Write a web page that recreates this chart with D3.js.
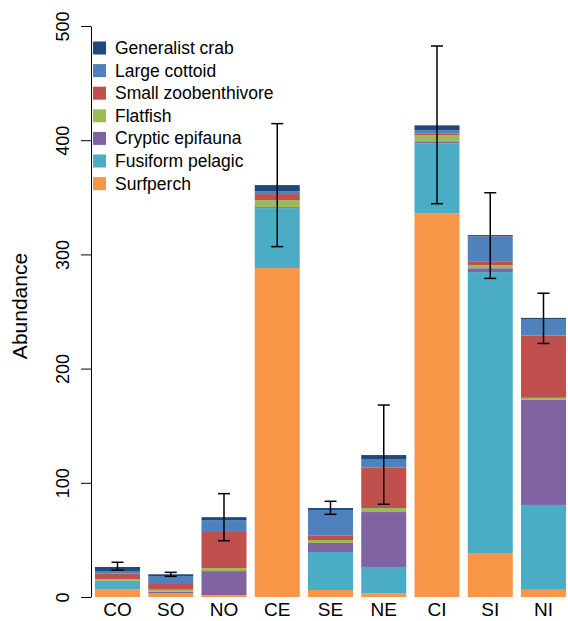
<!DOCTYPE html>
<html><head><meta charset="utf-8">
<script src="https://cdn.jsdelivr.net/npm/d3@7"></script>
<style>body{margin:0;background:#fff}svg{display:block}text{font-family:"Liberation Sans",Arial,sans-serif}</style>
</head><body><svg id="c" width="568" height="621"></svg>
<script>
const sites = ["CO","SO","NO","CE","SE","NE","CI","SI","NI"];
const groups = ["Surfperch","Fusiform pelagic","Cryptic epifauna","Flatfish","Small zoobenthivore","Large cottoid","Generalist crab"];
const colors = ["#F79646","#4BACC6","#8064A2","#9BBB59","#C0504D","#4F81BD","#1F497D"];
const surfperch          = [6.7, 2.9, 1.2, 288, 6.1, 3.2, 336, 38.5, 7];
const fusiformPelagic    = [7.3, 0.6, 0.5, 52.5, 33.3, 23.1, 61.2, 246, 73.6];
const crypticEpifauna    = [0.2, 1.1, 21, 0.9, 7.9, 48.1, 1.8, 3.4, 92];
const flatfish           = [1.6, 1.8, 2.6, 6.1, 2.6, 3.5, 5.3, 2.7, 1.8];
const smallZoobenthivore = [4.6, 5, 32.4, 5.3, 4.1, 35.3, 1.7, 2.9, 54.5];
const largeCottoid       = [2.4, 7, 9.6, 2.6, 22.2, 7.6, 2.6, 22.4, 14.5];
const generalistCrab     = [3.5, 1.5, 2.6, 5.3, 1.7, 3.5, 4.4, 1, 1];
const errLow  = [23.4, 18.1, 49.3, 306.8, 72.4, 81.2, 344.4, 279, 222];
const errHigh = [30.4, 21.6, 90.5, 414.5, 83.8, 168.1, 482.5, 354, 266];
const yTicks = [0,100,200,300,400,500];

const series = [surfperch,fusiformPelagic,crypticEpifauna,flatfish,smallZoobenthivore,largeCottoid,generalistCrab];
const table = sites.map((s,i)=>{const o={site:s}; groups.forEach((g,j)=>o[g]=series[j][i]); return o;});
const stack = d3.stack().keys(groups)(table);

const svg = d3.select("#c");
const x = d3.scaleBand().domain(sites).range([91,570]).paddingInner(0.155).paddingOuter(0.075);
const y = d3.scaleLinear().domain([0,500]).range([597,26]);

svg.append("g").selectAll("g").data(stack).join("g")
  .attr("fill",(d,i)=>colors[i])
  .selectAll("rect").data(d=>d).join("rect")
  .attr("x",d=>x(d.data.site)).attr("width",x.bandwidth())
  .attr("y",d=>y(d[1])).attr("height",d=>Math.max(0,y(d[0])-y(d[1])));

// error bars
const eb = svg.append("g").attr("stroke","#000").attr("stroke-width",1.5);
sites.forEach((s,i)=>{
  const cx = x(s)+x.bandwidth()/2;
  eb.append("line").attr("x1",cx).attr("x2",cx).attr("y1",y(errLow[i])).attr("y2",y(errHigh[i]));
  eb.append("line").attr("x1",cx-6).attr("x2",cx+6).attr("y1",y(errLow[i])).attr("y2",y(errLow[i]));
  eb.append("line").attr("x1",cx-6).attr("x2",cx+6).attr("y1",y(errHigh[i])).attr("y2",y(errHigh[i]));
});

// y axis
const ax = svg.append("g").attr("transform","translate(91,0)")
  .call(d3.axisLeft(y).tickValues(yTicks).tickSize(10).tickSizeOuter(0).tickPadding(0));
ax.select(".domain").attr("stroke","#000").attr("stroke-width",1);
ax.selectAll(".tick line").attr("stroke","#000");
ax.selectAll(".tick text").attr("font-size",18).attr("fill","#000")
  .attr("x",null).attr("dy",null)
  .attr("text-anchor","middle")
  .attr("transform","translate(-22,0) rotate(-90)");

svg.append("text").attr("transform","translate(27,306) rotate(-90)")
  .attr("text-anchor","middle").attr("font-size",21).attr("fill","#000").text("Abundance");

// x labels
const xa = svg.append("g").attr("transform","translate(0,597)")
  .call(d3.axisBottom(x).tickSize(0).tickPadding(0));
xa.select(".domain").remove();
xa.selectAll(".tick text").attr("font-size",19).attr("fill","#000").attr("y",19).attr("dy",null);

// legend
const legOrder = groups.map((g,i)=>({g,c:colors[i]})).reverse();
const leg = svg.append("g");
legOrder.forEach((d,i)=>{
  const cy = 48 + i*22.6;
  leg.append("rect").attr("x",93).attr("y",cy-6.5).attr("width",13).attr("height",13).attr("fill",d.c);
  leg.append("text").attr("x",115).attr("y",cy+6).attr("font-size",17.5).attr("fill","#000").text(d.g);
});
</script></body></html>
